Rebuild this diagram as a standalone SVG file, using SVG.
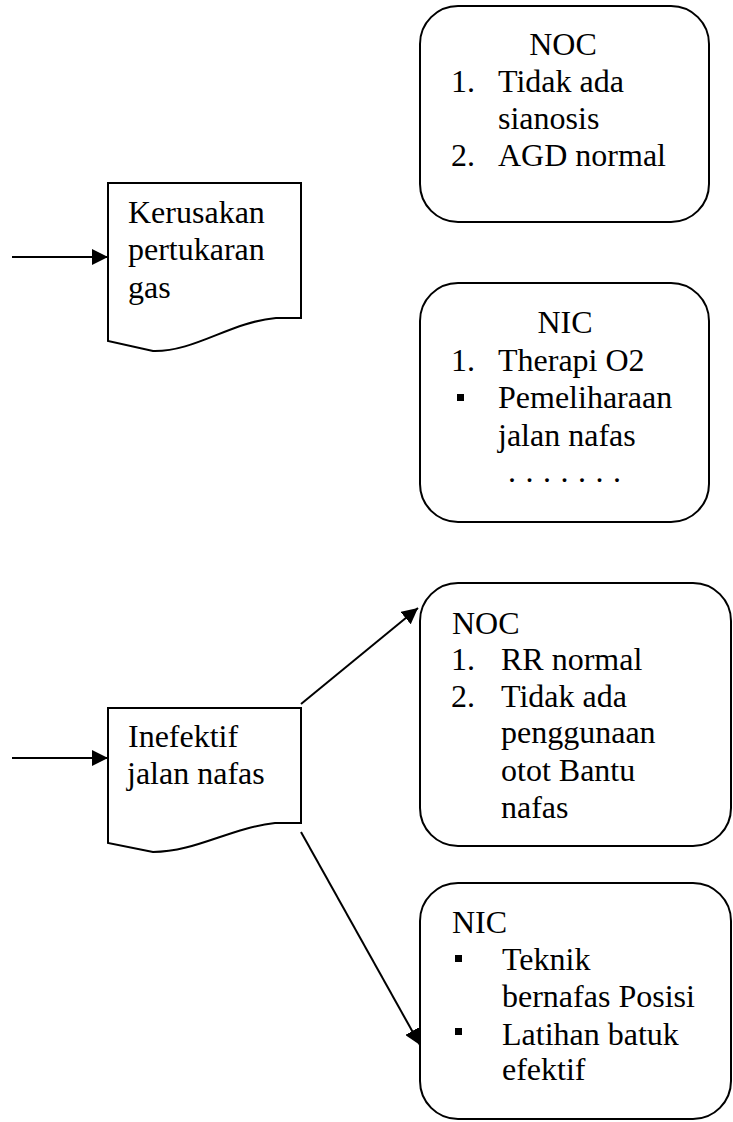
<svg xmlns="http://www.w3.org/2000/svg" width="733" height="1122" viewBox="0 0 733 1122">
  <defs>
    <marker id="arrow" viewBox="0 0 16 16" refX="16" refY="8" markerWidth="16" markerHeight="16" markerUnits="userSpaceOnUse" orient="auto">
      <path d="M0,0 L16,8 L0,16 Z" fill="#000"/>
    </marker>
    <style>
      .shape { fill: #fff; stroke: #000; stroke-width: 2; }
      .edge { fill: none; stroke: #000; stroke-width: 2; }
      text { font-family: 'Liberation Serif', 'DejaVu Serif', serif; font-size: 32px; fill: #000; }
      .mid { text-anchor: middle; }
      .bullet { fill: #000; }
    </style>
  </defs>
  <rect width="733" height="1122" fill="#fff"/>

  <!-- connectors -->
  <g id="connectors">
    <line class="edge" x1="12" y1="257" x2="108" y2="257" marker-end="url(#arrow)"/>
    <line class="edge" x1="12" y1="758" x2="108" y2="758" marker-end="url(#arrow)"/>
    <line class="edge" x1="301" y1="704" x2="418" y2="608" marker-end="url(#arrow)"/>
    <line class="edge" x1="301" y1="832" x2="420" y2="1045" marker-end="url(#arrow)"/>
  </g>

  <g font-family="Liberation Serif, DejaVu Serif, serif" font-size="32">
  <!-- diagnosis: gas exchange -->
  <g id="kerusakan">
    <path class="shape" d="M108,183 L301,183 L301,318 L276,318 C230,322 195,352 153,351 L108,341 Z"/>
    <text x="128" y="223">Kerusakan</text>
    <text x="128" y="260">pertukaran</text>
    <text x="128" y="298">gas</text>
  </g>

  <!-- outcomes for gas exchange -->
  <g id="noc1">
    <rect class="shape" x="420" y="6" width="289" height="216" rx="38" ry="38"/>
    <text class="mid" x="563" y="55">NOC</text>
    <text x="451" y="92">1.</text>
    <text x="498" y="92">Tidak ada</text>
    <text x="498" y="129">sianosis</text>
    <text x="451" y="166">2.</text>
    <text x="498" y="166">AGD normal</text>
  </g>

  <!-- interventions for gas exchange -->
  <g id="nic1">
    <rect class="shape" x="420" y="283" width="289" height="239" rx="38" ry="38"/>
    <text class="mid" x="565" y="333">NIC</text>
    <text x="451" y="371">1.</text>
    <text x="498" y="371">Therapi O2</text>
    <rect class="bullet" x="457" y="394" width="7" height="7"/>
    <text x="498" y="408">Pemeliharaan</text>
    <text x="498" y="446">jalan nafas</text>
    <text x="508" y="482" letter-spacing="9.5">.......</text>
  </g>

  <!-- diagnosis: airway clearance -->
  <g id="inefektif">
    <path class="shape" d="M108,708 L301,708 L301,823 L275,823 C230,828 195,852 153,852 L108,843 Z"/>
    <text x="128" y="747">Inefektif</text>
    <text x="127" y="784">jalan nafas</text>
  </g>

  <!-- outcomes for airway clearance -->
  <g id="noc2">
    <rect class="shape" x="420" y="583" width="311" height="263" rx="38" ry="38"/>
    <text x="452" y="634">NOC</text>
    <text x="451" y="670">1.</text>
    <text x="501" y="670">RR normal</text>
    <text x="451" y="707">2.</text>
    <text x="501" y="707">Tidak ada</text>
    <text x="501" y="743">penggunaan</text>
    <text x="501" y="781">otot Bantu</text>
    <text x="501" y="818">nafas</text>
  </g>

  <!-- interventions for airway clearance -->
  <g id="nic2">
    <rect class="shape" x="420" y="883" width="311" height="236" rx="38" ry="38"/>
    <text x="452" y="933">NIC</text>
    <rect class="bullet" x="455" y="955" width="7" height="7"/>
    <text x="502" y="970">Teknik</text>
    <text x="502" y="1007">bernafas Posisi</text>
    <rect class="bullet" x="455" y="1028" width="7" height="7"/>
    <text x="502" y="1045">Latihan batuk</text>
    <text x="502" y="1080">efektif</text>
  </g>
  </g>
</svg>
